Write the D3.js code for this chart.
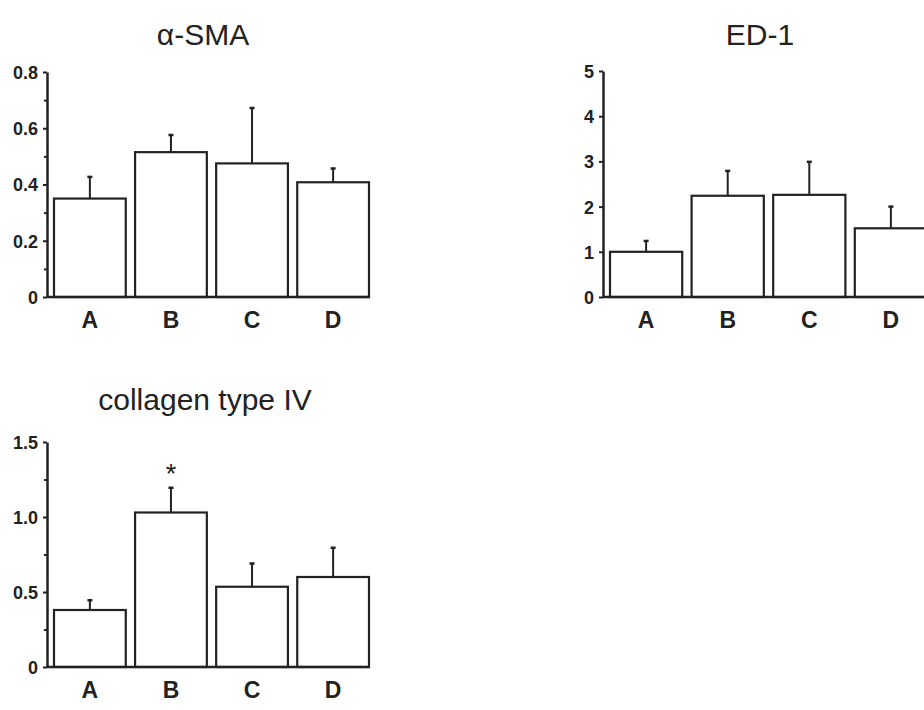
<!DOCTYPE html>
<html>
<head>
<meta charset="utf-8">
<script src="https://cdn.jsdelivr.net/npm/d3@7"></script>
<style>
  body { margin: 0; background: #fff; }
  svg { display: block; }
  .domain { stroke: #222; stroke-width: 2.5; }
  .tick line { stroke: #222; stroke-width: 2; }
  .tick text { font-family: "Liberation Sans", Arial, sans-serif; font-weight: bold; font-size: 18px; fill: #222; }
</style>
</head>
<body>
<script>
// groups and values (mean and SE)
const groups = ['A', 'B', 'C', 'D'];

const smaMean = [0.35, 0.515, 0.475, 0.408];
const smaErr = [0.077, 0.061, 0.197, 0.049];
const smaTicks = [0, 0.2, 0.4, 0.6, 0.8];
const smaMinor = [0.1, 0.3, 0.5, 0.7];
const smaLabels = ['0', '0.2', '0.4', '0.6', '0.8'];

const edMean = [1.0, 2.24, 2.26, 1.52];
const edErr = [0.24, 0.55, 0.73, 0.48];
const edTicks = [0, 1, 2, 3, 4, 5];
const edMinor = [];
const edLabels = ['0', '1', '2', '3', '4', '5'];

const colMean = [0.38, 1.03, 0.535, 0.60];
const colErr = [0.065, 0.165, 0.155, 0.195];
const colTicks = [0, 0.5, 1.0, 1.5];
const colMinor = [0.25, 0.75, 1.25];
const colLabels = ['0', '0.5', '1.0', '1.5'];
const colStars = ['', '*', '', ''];

const width = 924, height = 710;
const ink = '#222';

const svg = d3.select('body').append('svg')
    .attr('width', width)
    .attr('height', height);

const drawPanel = (p) => {
    const g = svg.append('g');

    const y = d3.scaleLinear().domain([0, p.max]).range([p.y0, p.yTop]);
    const x = d3.scaleBand().domain(groups).range([p.x0, p.x1])
        .paddingInner(0.115).paddingOuter(0);

    // title
    g.append('text')
        .attr('x', p.titleX).attr('y', p.titleY)
        .attr('text-anchor', 'middle')
        .style('font-family', '"Liberation Sans", Arial, sans-serif')
        .style('font-size', '30px')
        .attr('fill', ink)
        .text(p.title);

    // bars
    g.selectAll('rect.bar')
        .data(p.mean)
        .enter().append('rect')
        .attr('class', 'bar')
        .attr('x', (d, i) => x(groups[i]))
        .attr('y', d => y(d))
        .attr('width', x.bandwidth())
        .attr('height', d => p.y0 - y(d))
        .attr('fill', '#fff')
        .attr('stroke', ink)
        .attr('stroke-width', 2.2);

    // error bars
    const errs = p.mean.map((m, i) => ({m: m, e: p.err[i], k: groups[i]}));
    g.selectAll('line.err')
        .data(errs)
        .enter().append('line')
        .attr('x1', d => x(d.k) + x.bandwidth() / 2)
        .attr('x2', d => x(d.k) + x.bandwidth() / 2)
        .attr('y1', d => y(d.m))
        .attr('y2', d => y(d.m + d.e))
        .attr('stroke', ink).attr('stroke-width', 2);
    g.selectAll('line.cap')
        .data(errs)
        .enter().append('line')
        .attr('x1', d => x(d.k) + x.bandwidth() / 2 - 2.5)
        .attr('x2', d => x(d.k) + x.bandwidth() / 2 + 2.5)
        .attr('y1', d => y(d.m + d.e))
        .attr('y2', d => y(d.m + d.e))
        .attr('stroke', ink).attr('stroke-width', 2.5);

    // significance marks
    if (p.stars) {
        g.selectAll('text.star')
            .data(errs)
            .enter().append('text')
            .attr('x', d => x(d.k) + x.bandwidth() / 2)
            .attr('y', d => y(d.m + d.e) - 5)
            .attr('text-anchor', 'middle')
            .style('font-family', '"Liberation Sans", Arial, sans-serif')
            .style('font-size', '27px')
            .attr('fill', ink)
            .text((d, i) => p.stars[i]);
    }

    // y axis
    const ya = g.append('g')
        .attr('transform', `translate(${p.axisX},0)`)
        .call(d3.axisLeft(y).tickValues(p.ticks)
            .tickFormat((d, i) => p.labels[i])
            .tickSize(4).tickSizeOuter(0).tickPadding(5));
    ya.selectAll('.tick text').attr('dy', '0.36em');

    const ym = g.append('g')
        .attr('transform', `translate(${p.axisX},0)`)
        .call(d3.axisLeft(y).tickValues(p.minor).tickFormat('').tickSize(3).tickSizeOuter(0));
    ym.select('.domain').remove();

    // x axis line and category labels
    g.append('line')
        .attr('x1', p.axisX).attr('x2', p.x1 + 1)
        .attr('y1', p.y0).attr('y2', p.y0)
        .attr('stroke', ink).attr('stroke-width', 2.5);

    g.selectAll('text.cat')
        .data(groups)
        .enter().append('text')
        .attr('x', d => x(d) + x.bandwidth() / 2)
        .attr('y', p.y0 + 31)
        .attr('text-anchor', 'middle')
        .style('font-family', '"Liberation Sans", Arial, sans-serif')
        .style('font-weight', 'bold')
        .style('font-size', '23px')
        .attr('fill', ink)
        .text(d => d);
};

drawPanel({title: '\u03b1-SMA', titleX: 203, titleY: 45, max: 0.8,
    mean: smaMean, err: smaErr, ticks: smaTicks, minor: smaMinor, labels: smaLabels,
    axisX: 47, x0: 54, x1: 369, y0: 297, yTop: 72});

drawPanel({title: 'ED-1', titleX: 760, titleY: 45, max: 5,
    mean: edMean, err: edErr, ticks: edTicks, minor: edMinor, labels: edLabels,
    axisX: 603, x0: 610, x1: 927, y0: 297, yTop: 71});

drawPanel({title: 'collagen type IV', titleX: 205, titleY: 410, max: 1.5,
    mean: colMean, err: colErr, ticks: colTicks, minor: colMinor, labels: colLabels,
    stars: colStars,
    axisX: 47, x0: 54, x1: 369, y0: 667, yTop: 442});
</script>
</body>
</html>
